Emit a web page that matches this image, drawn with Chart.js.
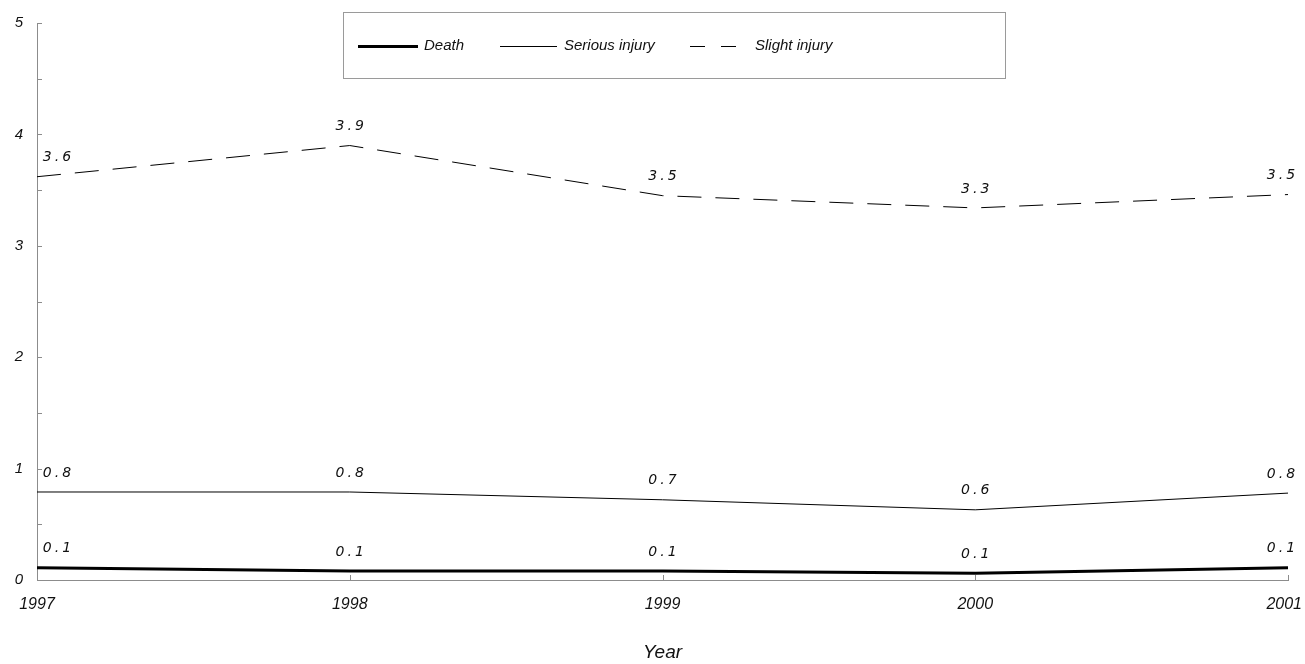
<!DOCTYPE html>
<html>
<head>
<meta charset="utf-8">
<script src="https://cdn.jsdelivr.net/npm/chart.js@4.4.1/dist/chart.umd.min.js"></script>
<style>
  html, body { margin: 0; padding: 0; background: #fff; }
  #wrap { width: 1305px; height: 664px; position: relative; }
</style>
</head>
<body>
<div id="wrap"><canvas id="c"></canvas></div>
<script>
const years = ['1997', '1998', '1999', '2000', '2001'];
const death = [0.11, 0.08, 0.08, 0.06, 0.11];
const seriousInjury = [0.79, 0.79, 0.72, 0.63, 0.78];
const slightInjury = [3.62, 3.90, 3.45, 3.34, 3.46];
const seriesNames = ['Death', 'Serious injury', 'Slight injury'];
const yTicks = [0, 1, 2, 3, 4, 5];

const AXIS = '#8c8c8c';
const FONT = '"Liberation Sans", Arial, sans-serif';

const innerTicks = {
  id: 'innerTicks',
  afterDraw(chart) {
    const { ctx, scales: { x, y }, chartArea } = chart;
    ctx.save();
    ctx.strokeStyle = AXIS;
    ctx.lineWidth = 1;
    for (let v = 0; v <= 5; v += 0.5) {
      const py = Math.round(y.getPixelForValue(v)) + 0.5;
      ctx.beginPath();
      ctx.moveTo(chartArea.left, py);
      ctx.lineTo(chartArea.left + 5, py);
      ctx.stroke();
    }
    for (let i = 1; i < years.length; i++) {
      const px = Math.round(x.getPixelForValue(i)) + 0.5;
      ctx.beginPath();
      ctx.moveTo(px, chartArea.bottom);
      ctx.lineTo(px, chartArea.bottom - 5);
      ctx.stroke();
    }
    // x tick labels
    ctx.font = 'italic 16px ' + FONT;
    ctx.fillStyle = '#111';
    ctx.textAlign = 'center';
    ctx.textBaseline = 'middle';
    const W = chart.width;
    years.forEach((lab, i) => {
      const px = x.getPixelForValue(i);
      const hw = ctx.measureText(lab).width / 2;
      const cx = Math.min(Math.max(px, hw + 2), W - hw - 3);
      ctx.fillText(lab, cx, chartArea.bottom + 25);
    });
    ctx.restore();
  }
};

const valueLabels = {
  id: 'valueLabels',
  afterDatasetsDraw(chart) {
    const { ctx } = chart;
    ctx.save();
    ctx.font = 'italic 14px "DejaVu Sans", sans-serif';
    ctx.fillStyle = '#111';
    ctx.textAlign = 'center';
    ctx.textBaseline = 'middle';
    if ('letterSpacing' in ctx) ctx.letterSpacing = '3px';
    chart.data.datasets.forEach((ds, di) => {
      const meta = chart.getDatasetMeta(di);
      meta.data.forEach((pt, i) => {
        let dx = 0;
        if (i === 0) dx = 20;
        if (i === ds.data.length - 1) dx = -7;
        ctx.fillText(ds.data[i].toFixed(1), pt.x + dx + 1.5, pt.y - 19);
      });
    });
    ctx.restore();
  }
};

const boxLegend = {
  id: 'boxLegend',
  afterDraw(chart) {
    const { ctx } = chart;
    ctx.save();
    ctx.strokeStyle = '#9a9a9a';
    ctx.lineWidth = 1;
    ctx.strokeRect(343.5, 12.5, 662, 66);
    const cy = 46;
    const items = [
      { x1: 358, x2: 418, tx: 424 },
      { x1: 500, x2: 557, tx: 564 },
      { x1: 690, x2: 736, tx: 755 }
    ];
    ctx.font = 'italic 15px ' + FONT;
    ctx.fillStyle = '#111';
    ctx.textBaseline = 'middle';
    chart.data.datasets.forEach((ds, i) => {
      const it = items[i];
      ctx.beginPath();
      ctx.strokeStyle = ds.borderColor;
      ctx.lineWidth = ds.borderWidth;
      ctx.setLineDash(i === 2 ? [15, 16] : []);
      ctx.moveTo(it.x1, cy + 0.5);
      ctx.lineTo(it.x2, cy + 0.5);
      ctx.stroke();
      ctx.setLineDash([]);
      ctx.fillText(ds.label, it.tx, cy);
    });
    ctx.restore();
  }
};

new Chart(document.getElementById('c'), {
  type: 'line',
  data: {
    labels: years,
    datasets: [
      { label: seriesNames[0], data: death, borderColor: '#000', borderWidth: 3, pointRadius: 0, tension: 0 },
      { label: seriesNames[1], data: seriousInjury, borderColor: '#000', borderWidth: 1, pointRadius: 0, tension: 0 },
      { label: seriesNames[2], data: slightInjury, borderColor: '#000', borderWidth: 1, borderDash: [24, 14], pointRadius: 0, tension: 0 }
    ]
  },
  options: {
    responsive: true,
    maintainAspectRatio: false,
    animation: false,
    layout: { padding: { top: 22, right: 17, left: 0, bottom: 0 } },
    plugins: { legend: { display: false }, tooltip: { enabled: false } },
    scales: {
      x: {
        type: 'category',
        offset: false,
        grid: { display: false, drawTicks: false },
        border: { display: true, color: AXIS, width: 1 },
        ticks: { display: false },
        title: { display: true, text: 'Year', color: '#111', padding: { top: 0, bottom: 0 }, font: { family: FONT, style: 'italic', size: 19 } },
        afterFit(s) { s.height = 84; }
      },
      y: {
        min: 0, max: 5,
        afterBuildTicks(s) { s.ticks = yTicks.map(v => ({ value: v })); },
        grid: { display: false, drawTicks: false },
        border: { display: true, color: AXIS, width: 1 },
        ticks: { color: '#111', padding: 14, font: { family: FONT, style: 'italic', size: 15 } },
        afterFit(s) { s.width = 37; }
      }
    }
  },
  plugins: [innerTicks, valueLabels, boxLegend]
});
</script>
</body>
</html>
